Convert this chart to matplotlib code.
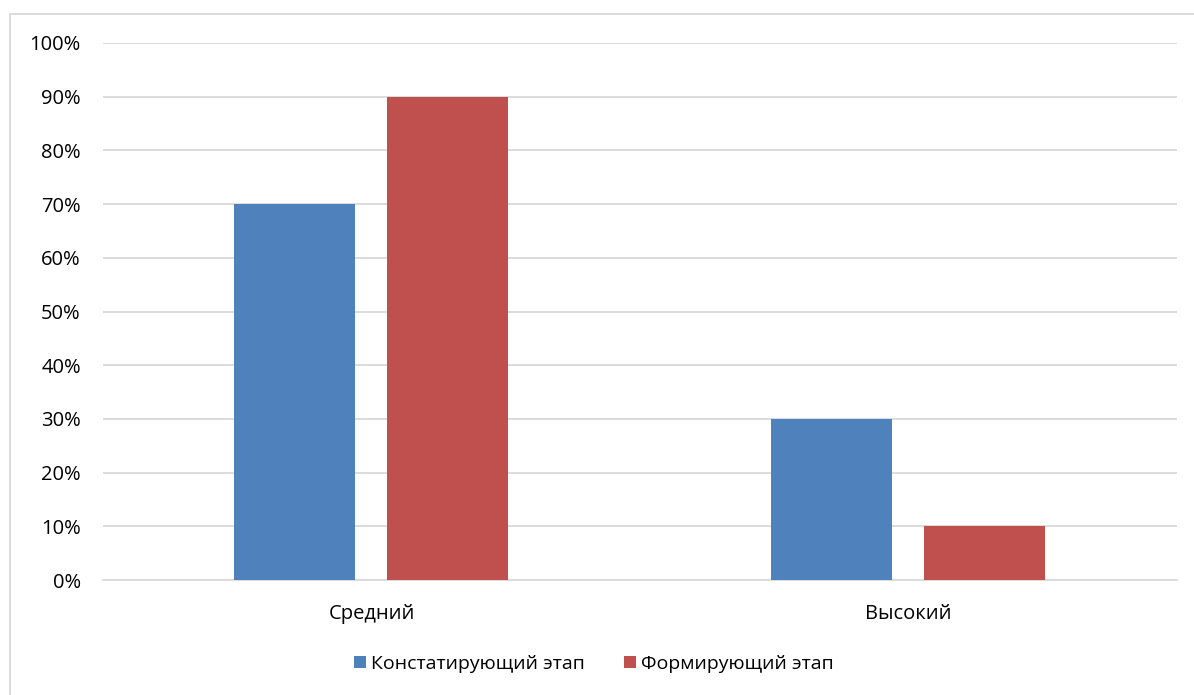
import numpy as np
import matplotlib
matplotlib.use("Agg")
import matplotlib.pyplot as plt
from matplotlib.lines import Line2D
from matplotlib.ticker import FuncFormatter

plt.rcParams['font.family'] = ['Open Sans', 'DejaVu Sans']

categories = ["Средний", "Высокий"]
series_names = ["Констатирующий этап", "Формирующий этап"]
stage1 = [0.70, 0.30]
stage2 = [0.90, 0.10]
colors = ["#4F81BD", "#C0504D"]

W, H = 1194, 695
fig = plt.figure(figsize=(W / 100, H / 100), dpi=100)
ax = fig.add_axes([103 / W, 1 - 580 / H, (1177 - 103) / W, (580 - 43) / H])

x = np.arange(len(categories))
width = 0.225
ax.bar(x - 0.143, stage1, width, color=colors[0], label=series_names[0], zorder=3)
ax.bar(x + 0.142, stage2, width, color=colors[1], label=series_names[1], zorder=3)

ax.set_xlim(-0.5, 1.5)
ax.set_ylim(0, 1.0)
ax.set_yticks(np.arange(0, 1.01, 0.1))
ax.yaxis.set_major_formatter(FuncFormatter(lambda v, p: f"{v * 100:.0f}%"))
ax.set_xticks(x)
ax.set_xticklabels(categories)
ax.grid(axis="y", color="#D9D9D9", linewidth=1.3, zorder=0)
ax.tick_params(axis="both", length=0, labelsize=14.5, colors="#000000")
ax.tick_params(axis="y", pad=16)
ax.tick_params(axis="x", pad=17)
for s in ["top", "right", "left"]:
    ax.spines[s].set_visible(False)
ax.spines["bottom"].set_color("#D9D9D9")
ax.spines["bottom"].set_linewidth(1.3)

fig.legend(loc="center", bbox_to_anchor=(594 / W, 1 - 664 / H), ncol=2, frameon=False,
           fontsize=14, handlelength=0.62, handleheight=0.62, handletextpad=0.25,
           columnspacing=2.0)

# chart border (left and top visible)
fig.add_artist(Line2D([9.5 / W, 9.5 / W], [0, 1 - 13.5 / H], transform=fig.transFigure,
                      color="#D9D9D9", linewidth=1.3))
fig.add_artist(Line2D([9.5 / W, 1], [1 - 13.5 / H, 1 - 13.5 / H], transform=fig.transFigure,
                      color="#D9D9D9", linewidth=1.3))

fig.savefig("out.png", dpi=100)
